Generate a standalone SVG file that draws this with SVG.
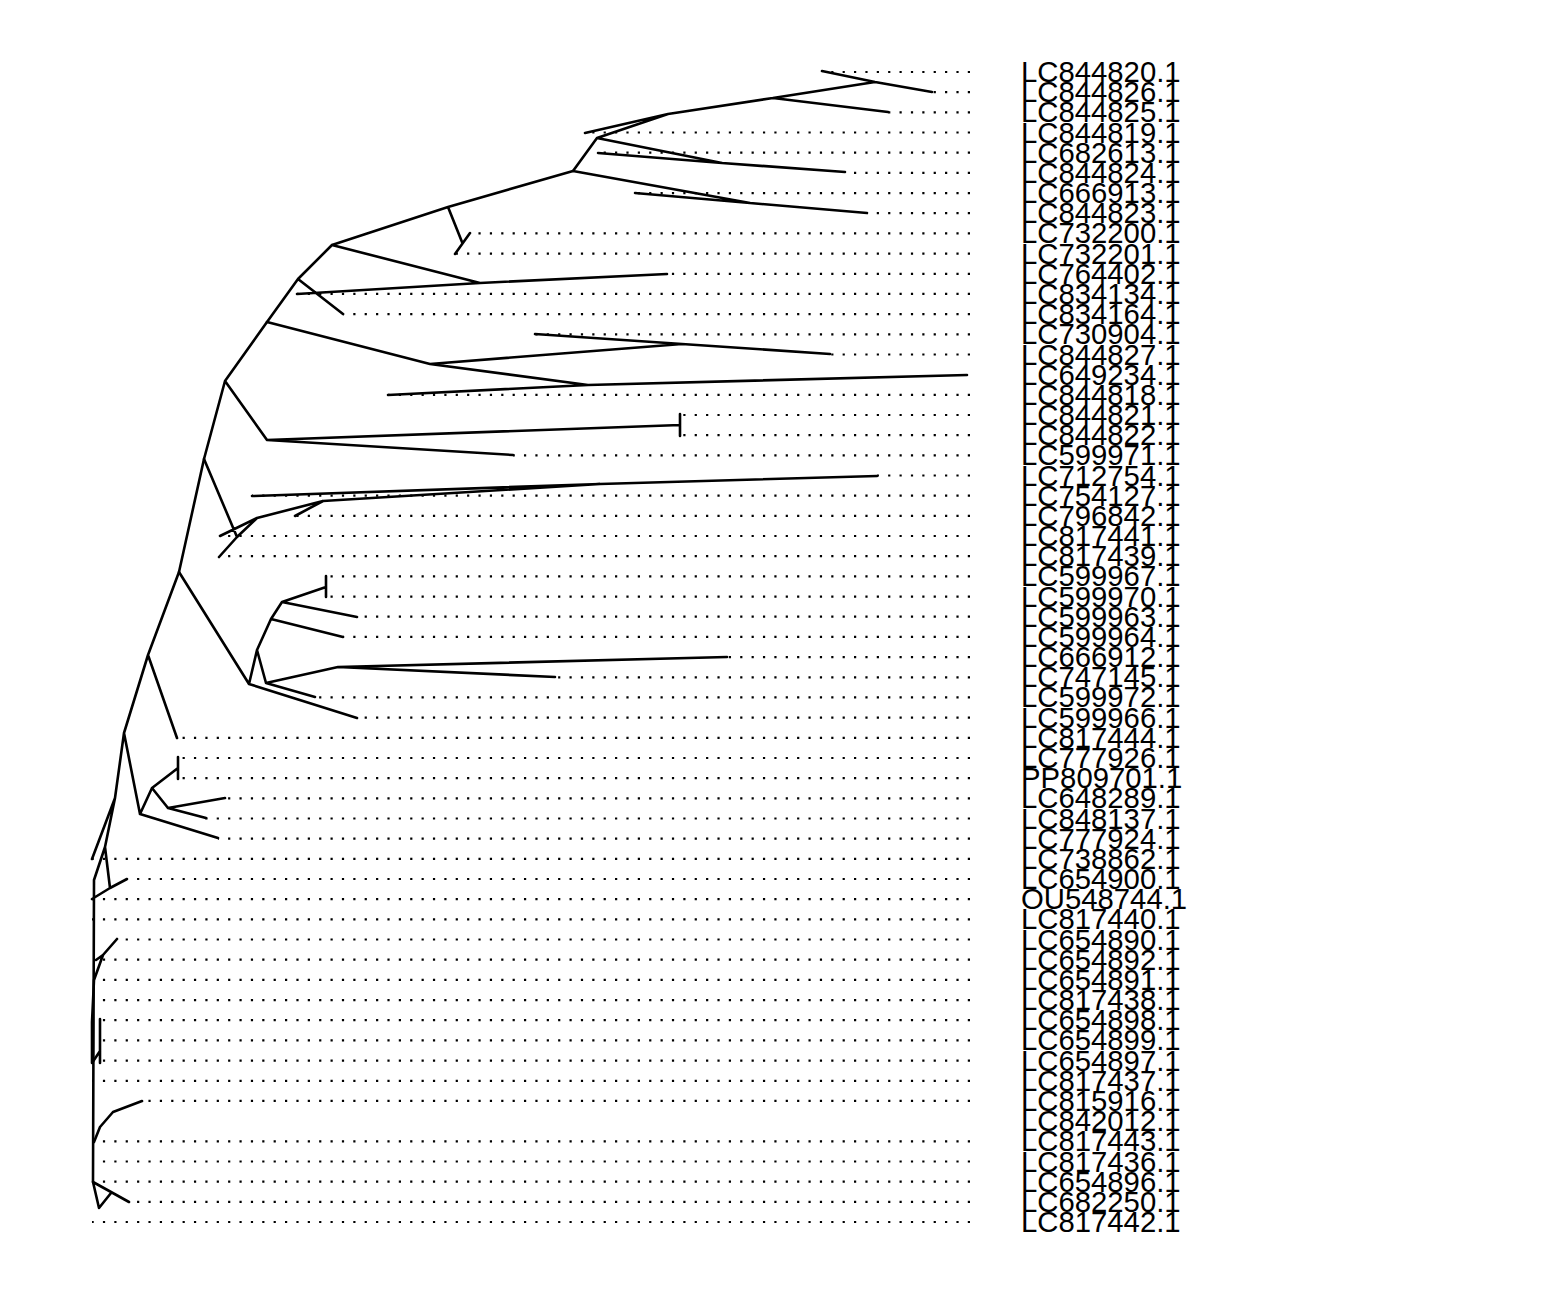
<svg xmlns="http://www.w3.org/2000/svg" width="1568" height="1302" viewBox="0 0 1568 1302">
<style>
.b{fill:none;stroke:#000;stroke-width:2.6;stroke-linecap:round;stroke-linejoin:round}
.d{fill:none;stroke:#000;stroke-width:2.2;stroke-dasharray:2.2 9.18}
.t{font-family:"Liberation Sans",Arial,sans-serif;font-size:29.3px;fill:#000}
</style>
<rect width="1568" height="1302" fill="#fff"/>
<g id="connectors">
<g id="dots">
<path class="d" d="M970,72H822M970,92.2H932M970,112.4H888M970,132.5H585M970,152.7H598M970,172.9H845M970,193.1H635M970,213.2H867M970,233.4H470M970,253.6H455M970,273.8H667M970,293.9H297M970,314.1H343M970,334.3H535M970,354.5H830M970,394.8H388M970,415H680M970,435.2H680M970,455.3H513M970,475.5H877M970,495.7H252M970,515.9H295M970,536H220M970,556.2H219M970,576.4H327M970,596.6H327M970,616.7H357M970,636.9H343M970,657.1H727M970,677.3H555M970,697.4H315M970,717.6H357M970,737.8H177M970,758H178M970,778.1H178M970,798.3H225M970,818.5H205M970,838.7H218M970,858.8H92M970,879H127M970,899.2H92M970,919.4H92M970,939.5H117M970,959.7H96M970,979.9H94M970,1000.1H94M970,1020.2H100M970,1040.4H100M970,1060.6H100M970,1080.8H92M970,1100.9H142M970,1141.3H94M970,1161.5H94M970,1181.6H94M970,1201.8H129M970,1222H92"/>
</g>
<g id="branches">
<path class="b" d="M822,71L875,82L932,92M875,82L773,98L888,112M773,98L668,114L585,133M668,114L597,138L722,163L598,153M722,163L845,172M597,138L573,171L750,203L635,193M750,203L867,213"/>
<path class="b" d="M573,171L448,207L462,242M470,233L455,254M448,207L332,245L480,283L667,274M480,283L297,294M332,245L298,279L343,314M298,279L267,322L430,364L682,344L535,334M682,344L830,354M430,364L588,385L388,395M588,385L967,375"/>
<path class="b" d="M267,322L225,381L267,440L680,425M680,414V436M267,440L513,455M225,381L204,459L237,537L219,557M237,537L257,518L220,536M257,518L323,501L295,516M323,501L600,484L252,496M600,484L877,476"/>
<path class="b" d="M204,459L179,572L249,684L357,718M249,684L257,650L271,619L343,637M271,619L282,602L357,617M282,602L326,587M326,576V597M257,650L266,683L315,697M266,683L338,667L727,657M338,667L555,677"/>
<path class="b" d="M179,572L148,655L177,738M148,655L124,733L140,814L218,838M140,814L152,788L178,768M178,757V779M152,788L168,808L225,798M168,808L206,818M124,733L115,798L92,859M115,798L105,847L110,888L127,879M110,888L92,899M105,847L94,880L93,1182"/>
<path class="b" d="M117,939L103,955L96,960M103,955L94,980L92,1022L92,1063L100,1051M100,1019V1063M142,1101L113,1112L100,1127L94,1142M93,1182L129,1202M93,1182L99,1208L111,1193"/>
</g>
</g>
<g id="labels" class="t">
<g id="n0"><text x="1021" y="82">LC844820.1</text></g>
<g id="n1"><text x="1021" y="102.2">LC844826.1</text></g>
<g id="n2"><text x="1021" y="122.4">LC844825.1</text></g>
<g id="n3"><text x="1021" y="142.5">LC844819.1</text></g>
<g id="n4"><text x="1021" y="162.7">LC682613.1</text></g>
<g id="n5"><text x="1021" y="182.9">LC844824.1</text></g>
<g id="n6"><text x="1021" y="203.1">LC666913.1</text></g>
<g id="n7"><text x="1021" y="223.2">LC844823.1</text></g>
<g id="n8"><text x="1021" y="243.4">LC732200.1</text></g>
<g id="n9"><text x="1021" y="263.6">LC732201.1</text></g>
<g id="n10"><text x="1021" y="283.8">LC764402.1</text></g>
<g id="n11"><text x="1021" y="303.9">LC834134.1</text></g>
<g id="n12"><text x="1021" y="324.1">LC834164.1</text></g>
<g id="n13"><text x="1021" y="344.3">LC730904.1</text></g>
<g id="n14"><text x="1021" y="364.5">LC844827.1</text></g>
<g id="n15"><text x="1021" y="384.6">LC649234.1</text></g>
<g id="n16"><text x="1021" y="404.8">LC844818.1</text></g>
<g id="n17"><text x="1021" y="425">LC844821.1</text></g>
<g id="n18"><text x="1021" y="445.2">LC844822.1</text></g>
<g id="n19"><text x="1021" y="465.3">LC599971.1</text></g>
<g id="n20"><text x="1021" y="485.5">LC712754.1</text></g>
<g id="n21"><text x="1021" y="505.7">LC754127.1</text></g>
<g id="n22"><text x="1021" y="525.9">LC796842.1</text></g>
<g id="n23"><text x="1021" y="546">LC817441.1</text></g>
<g id="n24"><text x="1021" y="566.2">LC817439.1</text></g>
<g id="n25"><text x="1021" y="586.4">LC599967.1</text></g>
<g id="n26"><text x="1021" y="606.6">LC599970.1</text></g>
<g id="n27"><text x="1021" y="626.7">LC599963.1</text></g>
<g id="n28"><text x="1021" y="646.9">LC599964.1</text></g>
<g id="n29"><text x="1021" y="667.1">LC666912.1</text></g>
<g id="n30"><text x="1021" y="687.3">LC747145.1</text></g>
<g id="n31"><text x="1021" y="707.4">LC599972.1</text></g>
<g id="n32"><text x="1021" y="727.6">LC599966.1</text></g>
<g id="n33"><text x="1021" y="747.8">LC817444.1</text></g>
<g id="n34"><text x="1021" y="768">LC777926.1</text></g>
<g id="n35"><text x="1021" y="788.1">PP809701.1</text></g>
<g id="n36"><text x="1021" y="808.3">LC648289.1</text></g>
<g id="n37"><text x="1021" y="828.5">LC848137.1</text></g>
<g id="n38"><text x="1021" y="848.7">LC777924.1</text></g>
<g id="n39"><text x="1021" y="868.8">LC738862.1</text></g>
<g id="n40"><text x="1021" y="889">LC654900.1</text></g>
<g id="n41"><text x="1021" y="909.2">OU548744.1</text></g>
<g id="n42"><text x="1021" y="929.4">LC817440.1</text></g>
<g id="n43"><text x="1021" y="949.5">LC654890.1</text></g>
<g id="n44"><text x="1021" y="969.7">LC654892.1</text></g>
<g id="n45"><text x="1021" y="989.9">LC654891.1</text></g>
<g id="n46"><text x="1021" y="1010.1">LC817438.1</text></g>
<g id="n47"><text x="1021" y="1030.2">LC654898.1</text></g>
<g id="n48"><text x="1021" y="1050.4">LC654899.1</text></g>
<g id="n49"><text x="1021" y="1070.6">LC654897.1</text></g>
<g id="n50"><text x="1021" y="1090.8">LC817437.1</text></g>
<g id="n51"><text x="1021" y="1110.9">LC815916.1</text></g>
<g id="n52"><text x="1021" y="1131.1">LC842012.1</text></g>
<g id="n53"><text x="1021" y="1151.3">LC817443.1</text></g>
<g id="n54"><text x="1021" y="1171.5">LC817436.1</text></g>
<g id="n55"><text x="1021" y="1191.6">LC654896.1</text></g>
<g id="n56"><text x="1021" y="1211.8">LC682250.1</text></g>
<g id="n57"><text x="1021" y="1232">LC817442.1</text></g>
</g>
</svg>
